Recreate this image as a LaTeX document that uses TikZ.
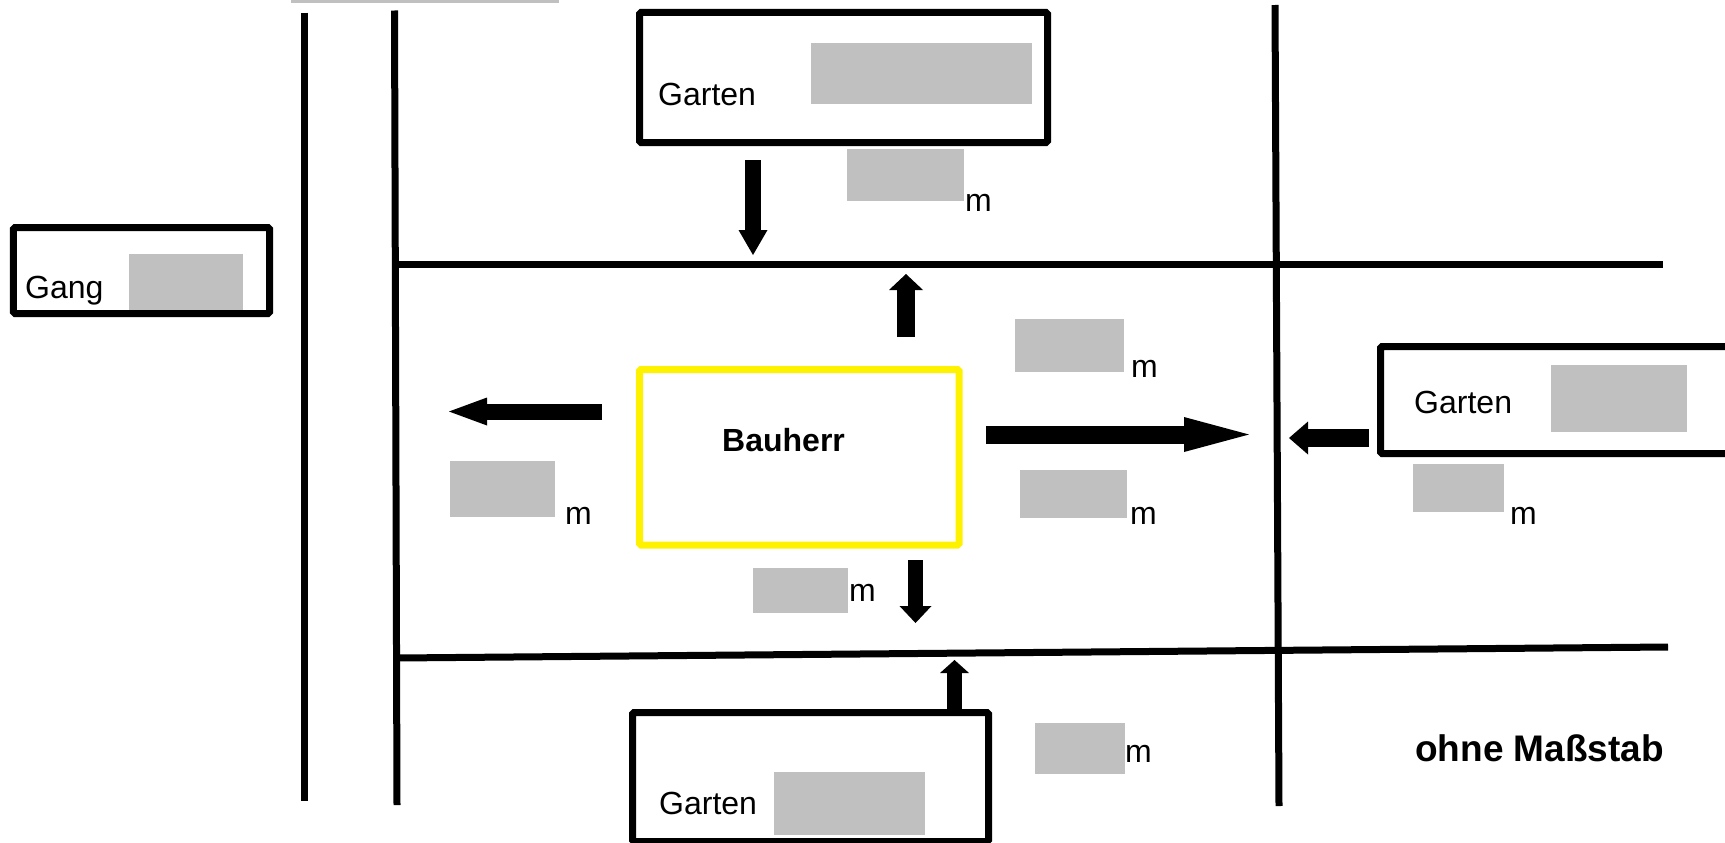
\documentclass[tikz,border=0pt]{standalone}
\usepackage{fontspec}
\setmainfont{Liberation Sans}
\usetikzlibrary{arrows.meta}
\definecolor{blank}{RGB}{192,192,192}
\tikzset{
	wall/.style={line width=7bp},
	box/.style={draw, line width=7bp, inner sep=0pt, rounded corners=1.5bp},
	txt/.style={anchor=base west, inner sep=0pt, font=\fontsize{32bp}{38bp}\selectfont},
	bold/.style={txt, font=\fontsize{32bp}{38bp}\selectfont\bfseries},
	fatarrow/.style args={#1/#2/#3}{line width=#1, -{Triangle[width=#2,length=#3,line width=0pt]}}
}

\begin{document}
\begin{tikzpicture}[x=1bp, y=-1bp]
		%%%%% START %%%%%
		\clip (0, 0) rectangle (1725, 843);
		
		\fill[blank] (291, 0) rectangle (559, 2.5);
		
		% Wege
		\draw[wall] (304.5, 12.5) -- (304.5, 801);
		\draw[wall] (394.5, 10.5) -- (397, 805);
		\draw[wall] (1275, 5) -- (1279, 806);
		\draw[wall] (394.5, 264) -- (1663, 264);
		\draw[wall] (397, 658) -- (1668, 647);
		
		% Grundstuecke
		\node[box, minimum width=408bp, minimum height=130bp] (gartenN) at (843.5, 77.5) {};
		\node[box, minimum width=256bp, minimum height=86bp] (gang) at (141.5, 270.5) {};
		\node[box, minimum width=400bp, minimum height=107bp] (gartenO) at (1580.5, 400) {};
		\node[box, minimum width=356bp, minimum height=129bp] (gartenS) at (810.5, 777) {};
		\node[box, draw=yellow, minimum width=319.5bp, minimum height=175.5bp] (bauherr) at (799.25, 457.25) {};
		
		\fill[blank] (811, 43) rectangle (1032, 104);
		\fill[blank] (129, 254) rectangle (243, 310);
		\fill[blank] (1551, 365) rectangle (1687, 432);
		\fill[blank] (774, 772) rectangle (925, 835);
		
		\node[txt] (lgartenN) at (658, 105) {Garten};
		\node[txt] (lgang) at (25, 298) {Gang};
		\node[txt] (lgartenO) at (1414, 413) {Garten};
		\node[txt] (lgartenS) at (659, 814) {Garten};
		\node[bold] (lbauherr) at (722, 451) {Bauherr};
		\node[bold, font=\fontsize{37bp}{44bp}\selectfont\bfseries] (lmass) at (1415, 761) {ohne Maßstab};
		
		% Abstaende
		\fill[blank] (847, 149) rectangle (964, 201);
		\node[txt] (m1) at (965, 211) {m};
		\fill[blank] (1015, 319) rectangle (1124, 372);
		\node[txt] (m2) at (1131, 377) {m};
		\fill[blank] (450, 461) rectangle (555, 517);
		\node[txt] (m3) at (565, 524) {m};
		\fill[blank] (1020, 470) rectangle (1127, 518);
		\node[txt] (m4) at (1130, 524) {m};
		\fill[blank] (1413, 464) rectangle (1504, 512);
		\node[txt] (m5) at (1510, 524) {m};
		\fill[blank] (753, 568) rectangle (848, 613);
		\node[txt] (m6) at (849, 601) {m};
		\fill[blank] (1035, 723) rectangle (1125, 774);
		\node[txt] (m7) at (1125, 762) {m};
		
		% Pfeile
		\coordinate (a1) at (753, 160);
		\coordinate (b1) at (753, 255);
		\draw[fatarrow=16bp/29bp/25bp] (a1) -- (b1);
		
		\coordinate (a2) at (906, 337);
		\coordinate (b2) at (906, 274);
		\draw[fatarrow=18bp/34bp/16bp] (a2) -- (b2);
		
		\coordinate (a3) at (602, 411.5);
		\coordinate (b3) at (449, 411.5);
		\draw[fatarrow=16bp/28bp/38bp] (a3) -- (b3);
		
		\coordinate (a4) at (986, 434.5);
		\coordinate (b4) at (1249, 434.5);
		\draw[fatarrow=18bp/35bp/65bp] (a4) -- (b4);
		
		\coordinate (a5) at (1369, 438);
		\coordinate (b5) at (1289, 438);
		\draw[fatarrow=18bp/33bp/19bp] (a5) -- (b5);
		
		\coordinate (a6) at (915.5, 560);
		\coordinate (b6) at (915.5, 623);
		\draw[fatarrow=15bp/32bp/17bp] (a6) -- (b6);
		
		\coordinate (a7) at (954.5, 709);
		\coordinate (b7) at (954.5, 660);
		\draw[fatarrow=15bp/29bp/13bp] (a7) -- (b7);
		
		%%%%% END %%%%%
\end{tikzpicture}
\end{document}
